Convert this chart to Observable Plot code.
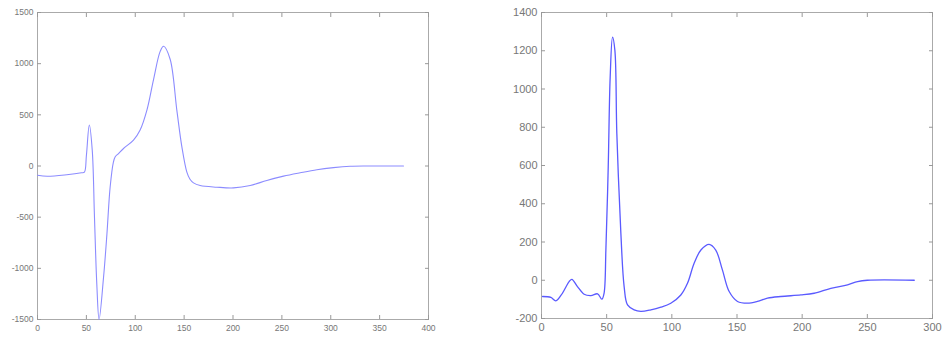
<!DOCTYPE html>
<html>
<head>
<meta charset="utf-8">
<script src="https://cdn.jsdelivr.net/npm/d3@7"></script>
<script src="https://cdn.jsdelivr.net/npm/@observablehq/plot@0.6"></script>
<style>
  html, body { margin: 0; padding: 0; background: #fff; }
  #wrap { position: relative; width: 944px; height: 338px; overflow: hidden; }
  #left { position: absolute; left: 0; top: 0; }
  #right { position: absolute; left: 490px; top: 0; }
</style>
</head>
<body>
<div id="wrap"><div id="left"></div><div id="right"></div></div>
<script>
// Left panel
const leftX = [0, 10, 30, 45, 48, 50, 53, 56, 58.3, 60.7, 63, 67.5, 71, 74.3, 77.7, 79.5, 82.9, 88, 98.2, 105, 112, 118.7, 125.5, 129, 135.7, 142.5, 147.7, 152.8, 156, 159.6, 166.4, 183.5, 200.5, 217.6, 234.6, 251.7, 268.7, 285.8, 302.8, 319.9, 337, 374.4];
const leftY = [-90, -100, -85, -66, -60, 100, 400, 155, -503, -1161, -1500, -1095, -668, -207, 40, 90, 122, 171, 253, 352, 549, 845, 1120, 1170, 1043, 549, 187, -60, -130, -165, -191, -207, -214, -191, -141, -99, -66, -36, -16, -3, 0, 0];
const leftXTicks = [0, 50, 100, 150, 200, 250, 300, 350, 400];
const leftYTicks = [-1500, -1000, -500, 0, 500, 1000, 1500];

// Right panel
const rightX = [0.8, 7.2, 11, 16, 21.2, 23.3, 27.6, 32.7, 37.9, 43, 46.3, 48, 49.4, 51.2, 52.7, 54.5, 56.3, 57.8, 60.9, 63.4, 66, 71.1, 76.2, 83.9, 91.6, 99.2, 106.9, 112, 117.1, 122.3, 128.6, 133.7, 138.8, 144, 150.4, 158, 165.7, 173.4, 183.6, 199, 209.2, 222, 234.8, 242.5, 250.1, 286];
const rightY = [-85, -90, -108, -68, -7, 5, -33, -73, -80, -71, -99, -68, 158, 593, 1063, 1271, 1202, 767, 245, -33, -129, -155, -163, -155, -141, -120, -77, -16, 89, 158, 188, 158, 54, -59, -111, -120, -111, -94, -85, -77, -68, -42, -24, -7, 0, 0];
const rightXTicks = [0, 50, 100, 150, 200, 250, 300];
const rightYTicks = [-200, 0, 200, 400, 600, 800, 1000, 1200, 1400];

function panel({xs, ys, xTicks, yTicks, xDomain, yDomain, width, margins, color, strokeWidth, fontSize}) {
  const data = xs.map((x, i) => ({x, y: ys[i]}));
  const blank = () => "";
  const fmt = (d) => String(d);
  return Plot.plot({
    width, height: 338,
    marginLeft: margins[0], marginRight: margins[1], marginTop: margins[2], marginBottom: margins[3],
    style: {fontFamily: "Liberation Sans, Arial, sans-serif", fontSize: fontSize + "px", color: "#666", background: "#fff"},
    x: {domain: xDomain, ticks: xTicks},
    y: {domain: yDomain, ticks: yTicks},
    marks: [
      Plot.frame({stroke: "#aaa"}),
      Plot.axisX(xTicks, {anchor: "bottom", tickSize: -4, tickPadding: 9, tickFormat: fmt, label: null, stroke: "#999", fill: "#777"}),
      Plot.axisX(xTicks, {anchor: "top", tickSize: -4, tickFormat: blank, label: null, stroke: "#999"}),
      Plot.axisY(yTicks, {anchor: "left", tickSize: -4, tickPadding: 8, tickFormat: fmt, label: null, stroke: "#999", fill: "#777"}),
      Plot.axisY(yTicks, {anchor: "right", tickSize: -4, tickFormat: blank, label: null, stroke: "#999"}),
      Plot.line(data, {x: "x", y: "y", stroke: color, strokeWidth, curve: "catmull-rom"})
    ]
  });
}

document.getElementById("left").append(panel({
  xs: leftX, ys: leftY, xTicks: leftXTicks, yTicks: leftYTicks,
  xDomain: [0, 400], yDomain: [-1500, 1500], width: 460,
  margins: [37, 32, 12, 19], color: "#8c8cff", strokeWidth: 1.1, fontSize: 8.5
}));
document.getElementById("right").append(panel({
  xs: rightX, ys: rightY, xTicks: rightXTicks, yTicks: rightYTicks,
  xDomain: [0, 300], yDomain: [-200, 1400], width: 454,
  margins: [51, 12, 12, 20], color: "#5a5aff", strokeWidth: 1.3, fontSize: 11
}));
</script>
</body>
</html>
